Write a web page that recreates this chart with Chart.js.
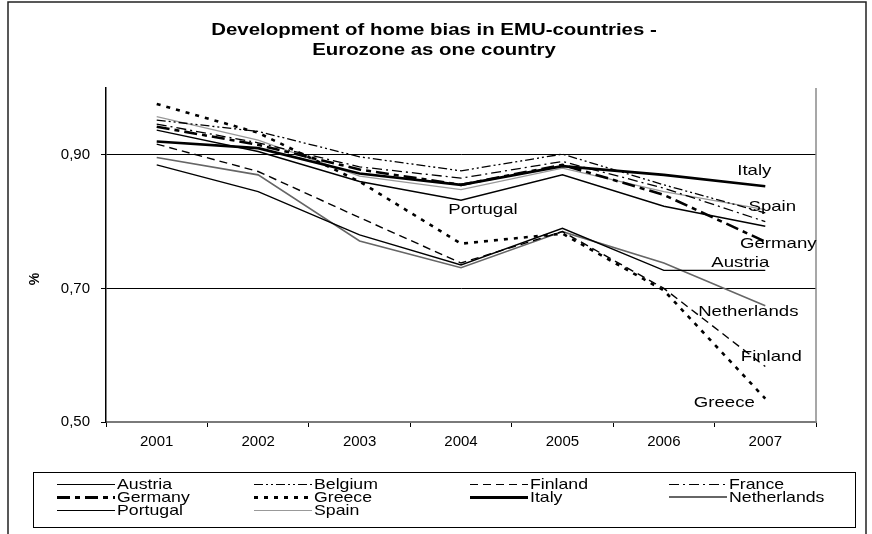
<!DOCTYPE html>
<html>
<head>
<meta charset="utf-8">
<title>Home bias in EMU-countries</title>
<script src="https://cdn.jsdelivr.net/npm/chart.js@4.4.0/dist/chart.umd.min.js"></script>
<style>
    html, body { margin: 0; padding: 0; background: #fff; }
    #wrap { width: 872px; height: 534px; }
</style>
</head>
<body>
<div id="wrap"><canvas id="chart" width="872" height="534"></canvas></div>
<script>
const years = ['2001', '2002', '2003', '2004', '2005', '2006', '2007'];
const yTicks = [0.5, 0.7, 0.9];
const titleLines = ['Development of home bias in EMU-countries -', 'Eurozone as one country'];

const austria     = [0.885, 0.845, 0.780, 0.735, 0.790, 0.727, 0.727];
const belgium     = [0.952, 0.935, 0.897, 0.876, 0.901, 0.855, 0.813];
const finland     = [0.916, 0.875, 0.806, 0.738, 0.785, 0.700, 0.583];
const france      = [0.946, 0.918, 0.882, 0.865, 0.890, 0.850, 0.800];
const germany     = [0.942, 0.915, 0.878, 0.855, 0.885, 0.840, 0.770];
const greece      = [0.976, 0.933, 0.860, 0.767, 0.782, 0.697, 0.535];
const italy       = [0.920, 0.910, 0.872, 0.855, 0.883, 0.870, 0.853];
const netherlands = [0.896, 0.870, 0.771, 0.731, 0.785, 0.738, 0.674];
const portugal    = [0.937, 0.905, 0.860, 0.832, 0.870, 0.823, 0.793];
const spain       = [0.957, 0.922, 0.868, 0.848, 0.880, 0.845, 0.818];

const FONT = 'Arial, "Liberation Sans", sans-serif';
// the original picture is a bit wider than tall, so text is stretched sideways
const STRETCH = 1.2;

// country name labels next to the lines (offsets from a data point)
const lineLabels = [
    { name: 'Italy',       index: 6, dx: -11, dy: -15 },
    { name: 'Spain',       index: 6, dx: 7,   dy: -3 },
    { name: 'Germany',     index: 6, dx: 13,  dy: 2 },
    { name: 'Austria',     index: 6, dx: -25, dy: -8 },
    { name: 'Netherlands', index: 6, dx: -17, dy: 6 },
    { name: 'Finland',     index: 6, dx: 6,   dy: -10 },
    { name: 'Greece',      index: 6, dx: -41, dy: 4 },
    { name: 'Portugal',    index: 3, dx: 22,  dy: 10 }
];

const legendCols = [57, 254, 470, 669];
const legendRows = [484, 497, 510];

function line(label, data, color, width, dash) {
    return {
        label: label,
        data: data,
        borderColor: color,
        borderWidth: width,
        borderDash: dash,
        pointRadius: 0,
        tension: 0,
        fill: false
    };
}

const datasets = [
    line('Austria', austria, '#000', 1.4, []),
    line('Belgium', belgium, '#000', 1.3, [9, 3, 2, 3, 2, 3]),
    line('Finland', finland, '#000', 1.4, [8, 5]),
    line('France', france, '#000', 1.3, [10, 4, 2, 4]),
    line('Germany', germany, '#000', 2.6, [13, 5, 5, 5]),
    line('Greece', greece, '#000', 2.6, [4, 6]),
    line('Italy', italy, '#000', 2.6, []),
    line('Netherlands', netherlands, '#666', 1.6, []),
    line('Portugal', portugal, '#000', 1.4, []),
    line('Spain', spain, '#999', 1.3, [])
];

function wideText(ctx, text, x, y, sx) {
    ctx.save();
    ctx.translate(x, y);
    ctx.scale(sx, 1);
    ctx.fillText(text, 0, 0);
    ctx.restore();
}

const decorations = {
    id: 'decorations',
    afterDraw(chart) {
        const ctx = chart.ctx;
        const xs = chart.scales.x;
        const ys = chart.scales.y;
        const area = chart.chartArea;
        ctx.save();

        // outer frame
        ctx.strokeStyle = '#222';
        ctx.lineWidth = 1.5;
        ctx.beginPath();
        ctx.moveTo(8, 540);
        ctx.lineTo(8, 2);
        ctx.lineTo(866, 2);
        ctx.lineTo(866, 540);
        ctx.stroke();

        // right edge of the plot area
        ctx.strokeStyle = '#8a8a8a';
        ctx.lineWidth = 1.5;
        ctx.beginPath();
        ctx.moveTo(area.right, area.top);
        ctx.lineTo(area.right, area.bottom);
        ctx.stroke();

        ctx.fillStyle = '#000';
        ctx.textAlign = 'center';
        ctx.textBaseline = 'middle';

        // title
        ctx.font = 'bold 17px ' + FONT;
        titleLines.forEach((t, i) => wideText(ctx, t, 434, 30 + i * 20, STRETCH));

        // axis title
        ctx.font = 'bold 14px ' + FONT;
        ctx.save();
        ctx.translate(35, 279);
        ctx.rotate(-Math.PI / 2);
        ctx.fillText('%', 0, 0);
        ctx.restore();

        // labels at the line ends
        ctx.font = '15px ' + FONT;
        lineLabels.forEach(l => {
            const ds = chart.data.datasets.find(d => d.label === l.name);
            const px = xs.getPixelForValue(l.index);
            const py = ys.getPixelForValue(ds.data[l.index]);
            wideText(ctx, l.name, px + l.dx, py + l.dy, 1.24);
        });

        // legend
        ctx.strokeStyle = '#000';
        ctx.lineWidth = 1;
        ctx.strokeRect(33.5, 472.5, 822, 55);
        ctx.font = '15px ' + FONT;
        ctx.textAlign = 'left';
        chart.data.datasets.forEach((ds, i) => {
            const x0 = legendCols[i % 4];
            const y0 = legendRows[Math.floor(i / 4)];
            const w = Math.max(1, Math.round(ds.borderWidth));
            const ly = w % 2 ? y0 + 0.5 : y0;
            ctx.beginPath();
            ctx.setLineDash(ds.borderDash);
            ctx.lineWidth = w;
            ctx.strokeStyle = ds.borderColor;
            ctx.moveTo(x0, ly);
            ctx.lineTo(x0 + 58, ly);
            ctx.stroke();
            ctx.setLineDash([]);
            wideText(ctx, ds.label, x0 + 60, y0 + 1, 1.18);
        });
        ctx.restore();
    }
};

new Chart(document.getElementById('chart').getContext('2d'), {
    type: 'line',
    data: { labels: years, datasets: datasets },
    options: {
        responsive: false,
        animation: false,
        devicePixelRatio: 1,
        layout: { padding: { left: 0, right: 56, top: 88, bottom: 72 } },
        plugins: {
            legend: { display: false },
            tooltip: { enabled: false },
            title: { display: false }
        },
        scales: {
            x: {
                offset: true,
                grid: {
                    offset: true,
                    drawOnChartArea: false,
                    drawTicks: true,
                    tickLength: 5,
                    tickColor: '#000'
                },
                border: { color: '#7a7a7a', width: 2 },
                ticks: { color: '#000', font: { family: FONT, size: 15 }, padding: 6, maxRotation: 0 },
                afterFit: s => { s.height = 40; }
            },
            y: {
                min: 0.5,
                max: 1.0,
                afterBuildTicks: s => { s.ticks = yTicks.map(v => ({ value: v })); },
                grid: {
                    color: c => (c.tick && c.tick.value === 0.5 ? 'rgba(0,0,0,0)' : '#000'),
                    lineWidth: 1,
                    drawTicks: true,
                    tickLength: 5,
                    tickColor: '#000'
                },
                border: { color: '#000', width: 1.5 },
                ticks: {
                    color: '#000',
                    font: { family: FONT, size: 15 },
                    padding: 11,
                    callback: v => v.toFixed(2).replace('.', ',')
                },
                afterFit: s => { s.width = 106; }
            }
        }
    },
    plugins: [decorations]
});
</script>
</body>
</html>
